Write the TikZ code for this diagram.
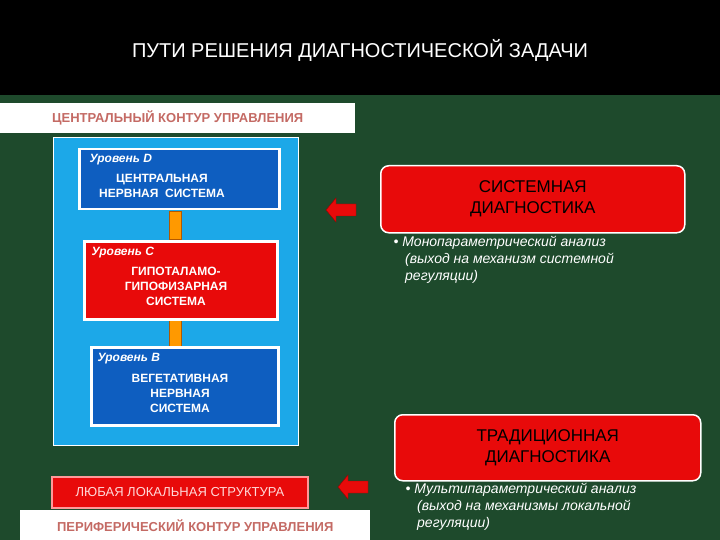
\documentclass[tikz,border=0pt]{standalone}
\usepackage{fontspec}
\setmainfont{Liberation Sans}
\definecolor{bg}{HTML}{1E4A2C}
\definecolor{panel}{HTML}{1CA8E8}
\definecolor{dblue}{HTML}{0E5EC0}
\definecolor{rd}{HTML}{E80A0A}
\definecolor{hdr}{HTML}{C46A64}
\tikzset{
 lvl/.style={draw=white,line width=2.5pt,minimum width=#1,align=center,text=white,inner sep=3pt},
 lvltext/.style={text=white,font=\bfseries\fontsize{12}{15}\selectfont,align=center},
 lvllab/.style={anchor=north west,text=white,font=\bfseries\itshape\fontsize{12}{14}\selectfont},
 diag/.style={fill=rd,draw=white,line width=1.5pt,rounded corners=8pt,text=black,align=center,font=\fontsize{17}{21}\selectfont},
 hdrbox/.style={fill=white,text=hdr,font=\bfseries\fontsize{13}{16}\selectfont},
 bul/.style={text=white,font=\itshape\fontsize{14}{17}\selectfont,align=left,anchor=north west},
 link/.style={draw=orange!70!black,fill=orange!80!yellow,line width=0.5pt,minimum width=12pt,inner sep=0pt}
}
\begin{document}
\begin{tikzpicture}[x=1pt,y=-1pt]
\fill[bg] (0,0) rectangle (720,540);
\useasboundingbox (0,0) rectangle (720,540);
\fill[black] (0,0) rectangle (720,95);
\node[text=white,font=\fontsize{20}{24}\selectfont] (title) at (360,50) {ПУТИ РЕШЕНИЯ ДИАГНОСТИЧЕСКОЙ ЗАДАЧИ};
\node[hdrbox,minimum width=355pt,minimum height=30pt,anchor=north west] (ch) at (0,103) {ЦЕНТРАЛЬНЫЙ КОНТУР УПРАВЛЕНИЯ};
\node[fill=panel,draw=white,line width=1pt,minimum width=245pt,minimum height=308pt,anchor=north west] (panel) at (53,137) {};
\node[link,minimum height=28pt] (l1) at (175,225) {};
\node[link,minimum height=26pt] (l2) at (175,333) {};
\node[lvl=200pt,fill=dblue,minimum height=60pt,anchor=north west] (d) at (78,148) {};
\node[lvllab] (dl) at (86,151) {Уровень D};
\node[lvltext] (dt) at (162,186) {ЦЕНТРАЛЬНАЯ\\НЕРВНАЯ\ \ СИСТЕМА};
\node[lvl=193pt,fill=rd,minimum height=78pt,anchor=north west] (c) at (83,240) {};
\node[lvllab] (cl) at (88,244) {Уровень C};
\node[lvltext] (ct) at (176,286) {ГИПОТАЛАМО-\\ГИПОФИЗАРНАЯ\\СИСТЕМА};
\node[lvl=187pt,fill=dblue,minimum height=78pt,anchor=north west] (b) at (90,346) {};
\node[lvllab] (bl) at (94,350) {Уровень B};
\node[lvltext] (bt) at (180,393) {ВЕГЕТАТИВНАЯ\\НЕРВНАЯ\\СИСТЕМА};
\node[fill=rd,draw=red!40!white,line width=2pt,minimum width=256pt,minimum height=31pt,anchor=north west,text=white!85!red,font=\fontsize{13}{15}\selectfont] (any) at (51,476) {ЛЮБАЯ ЛОКАЛЬНАЯ СТРУКТУРА};
\node[hdrbox,minimum width=350pt,minimum height=30pt,anchor=north west] (pc) at (20,510) {ПЕРИФЕРИЧЕСКИЙ КОНТУР УПРАВЛЕНИЯ};
\coordinate (a1) at (341,210);
\coordinate (a2) at (353,487);
\foreach \p in {a1,a2}
 \fill[rd,draw=red!60!black] ([xshift=-15pt]\p) -- ++(10,-12) -- ++(0,6) -- ++(20,0) -- ++(0,12) -- ++(-20,0) -- ++(0,6) -- cycle;
\node[diag,minimum width=304pt,minimum height=67pt,anchor=north west] (sd) at (380,165) {СИСТЕМНАЯ\\ДИАГНОСТИКА};
\node[bul] (sb) at (390,233) {• Монопараметрический анализ\\\ \ \ (выход на механизм системной\\\ \ \ регуляции)};
\node[diag,minimum width=306pt,minimum height=66pt,anchor=north west] (td) at (394,414) {ТРАДИЦИОННАЯ\\ДИАГНОСТИКА};
\node[bul] (tb) at (402,480) {• Мультипараметрический анализ\\\ \ \ (выход на механизмы локальной\\\ \ \ регуляции)};
\end{tikzpicture}
\end{document}
